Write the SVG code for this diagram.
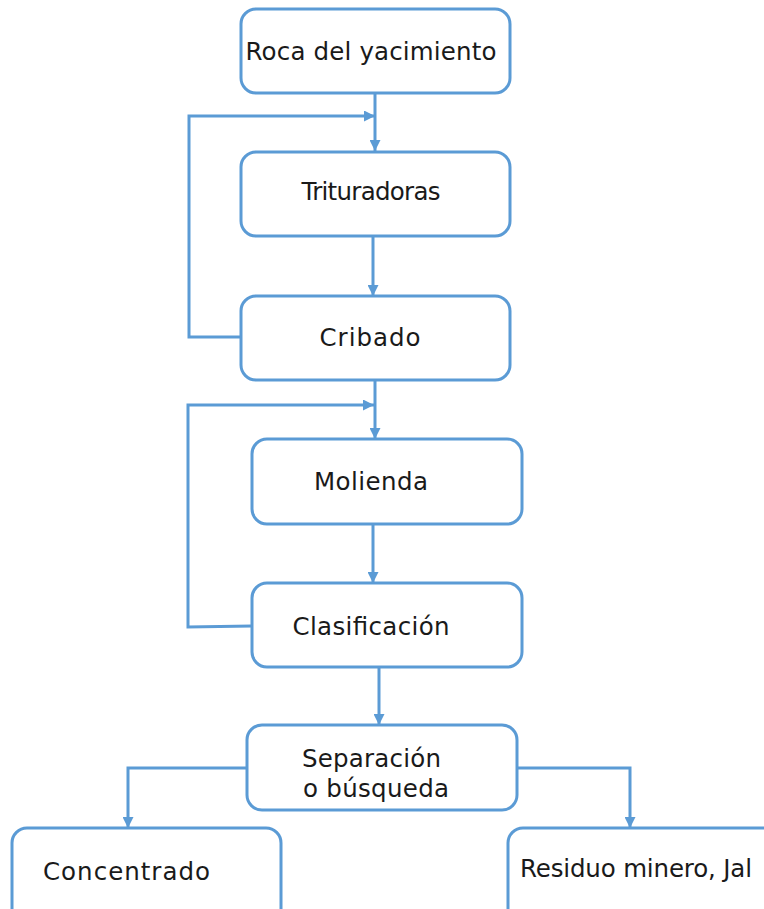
<svg xmlns="http://www.w3.org/2000/svg" width="764" height="909" viewBox="0 0 764 909">
<style>
.box{fill:#ffffff;stroke:#5B9BD5;stroke-width:3}
.c{fill:none;stroke:#5B9BD5;stroke-width:3}
text{font-family:"DejaVu Sans","Liberation Sans",sans-serif;font-size:24.5px;fill:#1a1a1a}
</style>
<defs>
<marker id="ah" markerWidth="11" markerHeight="11" viewBox="0 0 10 10" refX="10" refY="5" orient="auto" markerUnits="userSpaceOnUse">
<path d="M0,0 L10,5 L0,10 z" fill="#5B9BD5"/>
</marker>
</defs>
<rect width="764" height="909" fill="#ffffff"/>
<g id="connectors">
<path class="c" d="M375,93 V151" marker-end="url(#ah)"/>
<path class="c" d="M241,337 H189 V116 H375" marker-end="url(#ah)"/>
<path class="c" d="M373,236 V296" marker-end="url(#ah)"/>
<path class="c" d="M375,380 V439" marker-end="url(#ah)"/>
<path class="c" d="M252,626 L188,627 V405 H374" marker-end="url(#ah)"/>
<path class="c" d="M373,524 V583" marker-end="url(#ah)"/>
<path class="c" d="M379,667 V725" marker-end="url(#ah)"/>
<path class="c" d="M247,768 H128 V828" marker-end="url(#ah)"/>
<path class="c" d="M517,768 H630 V828" marker-end="url(#ah)"/>
</g>
<g id="roca">
<rect class="box" x="241" y="9" width="269" height="84" rx="15"/>
<text x="371" y="60" text-anchor="middle" textLength="251">Roca del yacimiento</text>
</g>
<g id="trituradoras">
<rect class="box" x="241" y="152" width="269" height="84" rx="15"/>
<text x="371" y="200" text-anchor="middle" textLength="139">Trituradoras</text>
</g>
<g id="cribado">
<rect class="box" x="241" y="296" width="269" height="84" rx="15"/>
<text x="370" y="346" text-anchor="middle" textLength="101">Cribado</text>
</g>
<g id="molienda">
<rect class="box" x="252" y="439" width="270" height="85" rx="15"/>
<text x="371" y="490" text-anchor="middle" textLength="114">Molienda</text>
</g>
<g id="clasificacion">
<rect class="box" x="252" y="583" width="270" height="84" rx="15"/>
<text x="371" y="635" text-anchor="middle" textLength="157">Clasificación</text>
</g>
<g id="separacion">
<rect class="box" x="247" y="725" width="270" height="85" rx="15"/>
<text x="302" y="767" textLength="139">Separación</text>
<text x="303" y="797" textLength="146">o búsqueda</text>
</g>
<g id="concentrado">
<rect class="box" x="12" y="828" width="269" height="100" rx="15"/>
<text x="43" y="880" textLength="167">Concentrado</text>
</g>
<g id="residuo">
<rect class="box" x="508" y="828" width="280" height="100" rx="15"/>
<text x="520" y="877" textLength="232">Residuo minero, Jal</text>
</g>
</svg>
